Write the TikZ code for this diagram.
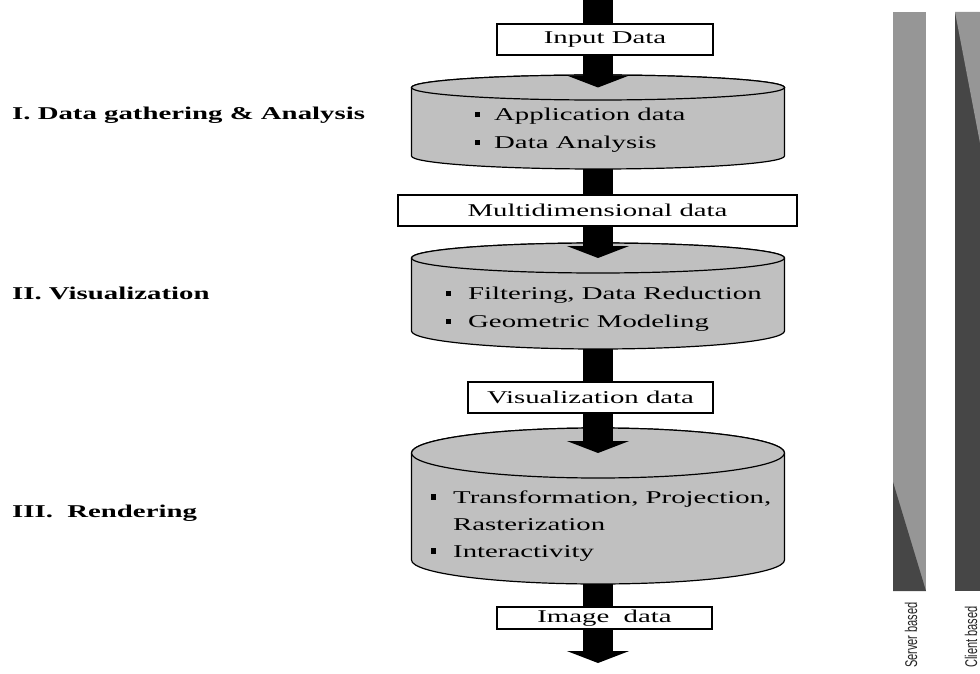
\documentclass[tikz,border=0pt]{standalone}
\usepackage{fontspec}
\setmainfont{Liberation Serif}[FakeStretch=1.6]
\newfontfamily\barfont{Liberation Sans}[FakeStretch=0.65]
\usetikzlibrary{arrows.meta}

\definecolor{drumgray}{RGB}{192,192,192}
\definecolor{barlight}{RGB}{150,150,150}
\definecolor{bardark}{RGB}{70,70,70}

% small square bullet
\newcommand\sqbul{\raisebox{3.5pt}{\rule{5.5pt}{5.5pt}}}

% a drum (cylinder) centred at x=598: name, top centre y, top ry, bottom centre y, bottom ry
\newcommand\drum[5]{%
  \filldraw[drumline] (411.5,-#2) -- (411.5,-#4)
    arc[start angle=180,end angle=360,x radius=186.5,y radius=#5]
    -- (784.5,-#2)
    arc[start angle=0,end angle=180,x radius=186.5,y radius=#3] -- cycle;
  \filldraw[drumline] (598,-#2) ellipse[x radius=186.5,y radius=#3];
  \coordinate (#1top) at (598,-#2);
  \coordinate (#1bot) at (598,-#4-#5);
}

\begin{document}
\begin{tikzpicture}[x=1pt,y=1pt,
  every node/.style={font=\fontsize{18}{28}\selectfont},
  drumline/.style={draw=black,line width=1.2pt,fill=drumgray},
  databox/.style={draw=black,line width=1.2pt,fill=white,inner sep=0pt,
    minimum height=31pt},
  flow/.style={line width=30pt,black},
  flowhead/.style={flow,-{Triangle[width=62pt,length=12pt]}},
  stage/.style={anchor=west,inner sep=0pt,font=\fontsize{18}{28}\selectfont\bfseries},
  items/.style={anchor=west,inner sep=0pt,align=left},
  barlabel/.style={rotate=90,anchor=east,inner sep=0pt,
    font=\barfont\fontsize{17}{20}\selectfont,text=black!85}]

\useasboundingbox (0,0) rectangle (980,-674);

% stage titles
\node[stage] (s1) at (12,-115) {I. Data gathering \& Analysis};
\node[stage] (s2) at (12,-293) {II. Visualization};
\node[stage] (s3) at (12,-513) {III.\ \ Rendering};

% drums
\drum{ca}{87.5}{12.5}{156}{13}
\drum{cb}{258}{15}{331}{18}
\drum{cc}{453}{25}{560}{24}

% drum contents
\node[items] (ia) at (474.5,-129)
  {\begin{tabular}{@{}l@{\hspace{14pt}}l@{}}\sqbul & Application data\\ \sqbul & Data Analysis\end{tabular}};
\node[items] (ib) at (445.5,-308)
  {\begin{tabular}{@{}l@{\hspace{17pt}}l@{}}\sqbul & Filtering, Data Reduction\\ \sqbul & Geometric Modeling\end{tabular}};
\node[items] (ic) at (430.5,-525)
  {\fontsize{18}{27}\selectfont\begin{tabular}{@{}l@{\hspace{17pt}}l@{}}\sqbul & Transformation, Projection,\\ & Rasterization\\ \sqbul & Interactivity\end{tabular}};

% data boxes
\node[databox,minimum width=216pt] (in) at (605,-39.5) {Input Data};
\node[databox,minimum width=399pt] (md) at (597.5,-210.5) {Multidimensional data};
\node[databox,minimum width=245pt] (vd) at (590.5,-397.5) {Visualization data};
\node[databox,minimum width=215pt,minimum height=22pt] (id) at (604.5,-618) {Image\ \ data};

% main flow
\coordinate (start) at (598,0);
\coordinate (finish) at (598,-663);
\draw[flow] (start) -- (in.north -| start);
\draw[flowhead] (in.south -| start) -- (catop);
\draw[flow] (cabot) -- (md.north -| start);
\draw[flowhead] (md.south -| start) -- (cbtop);
\draw[flow] (cbbot) -- (vd.north -| start);
\draw[flowhead] (vd.south -| start) -- (cctop);
\draw[flow] (ccbot) -- (id.north -| start);
\draw[flowhead] (id.south -| start) -- (finish);

% server / client share bars
\fill[barlight] (893,-12) rectangle (926,-591);
\fill[bardark] (893,-482) -- (893,-591) -- (926,-591) -- cycle;
\fill[bardark] (955,-12) rectangle (980,-591);
\fill[barlight] (955,-12) -- (980,-12) -- (980,-143) -- cycle;

\node[barlabel] (sv) at (911,-602) {Server based};
\node[barlabel] (cl) at (971,-606) {Client based};
\end{tikzpicture}
\end{document}
